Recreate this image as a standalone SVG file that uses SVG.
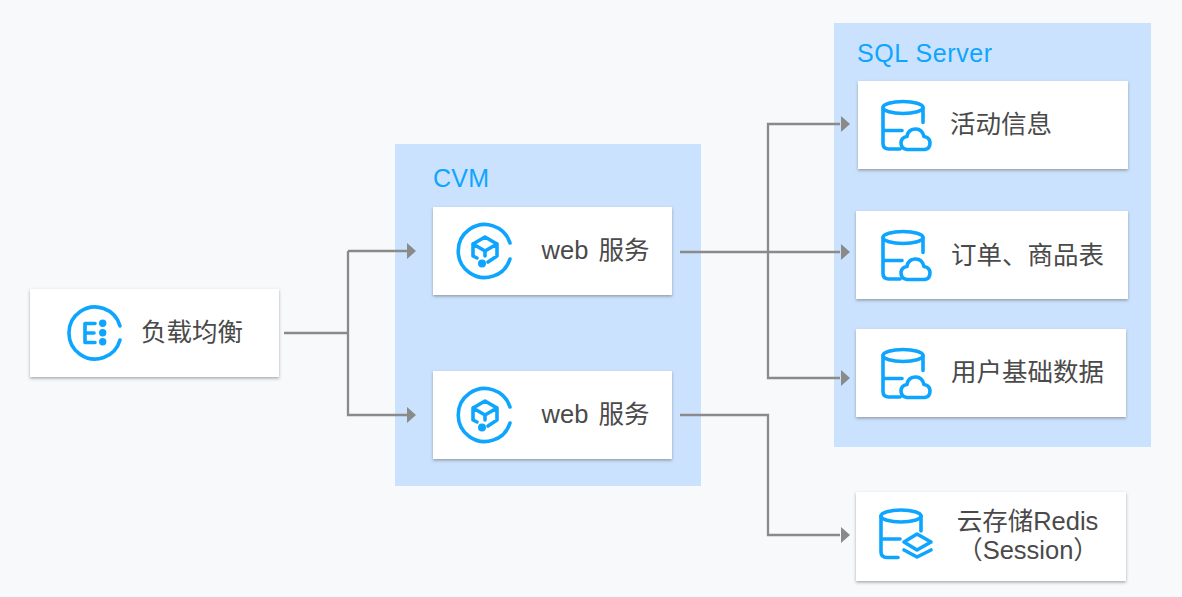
<svg xmlns="http://www.w3.org/2000/svg" xmlns:xlink="http://www.w3.org/1999/xlink" width="1182" height="597" viewBox="0 0 1182 597">
<style>
.card{fill:#fff;filter:url(#sh)}
.lbl{font-family:"Noto Sans CJK SC","Liberation Sans",sans-serif;font-size:25.5px;fill:#4a4a4a;text-anchor:middle}
.web{font-family:"Liberation Sans","Noto Sans CJK SC",sans-serif;font-size:25.5px;fill:#4a4a4a;text-anchor:middle;word-spacing:3px}
.ttl{font-family:"Liberation Sans",sans-serif;font-size:25px;fill:#0ea5ff}
.ic{fill:none;stroke:#0ea5ff;stroke-width:3.6;stroke-linecap:round;stroke-linejoin:round}
.dot{fill:#0ea5ff}
.ln{fill:none;stroke:#8a8a8a;stroke-width:2.300}
.ah{fill:#8a8a8a}
.zone{fill:#cbe2fe}
</style>
<defs>
<filter id="sh" x="-5%" y="-10%" width="110%" height="125%"><feDropShadow dx="0" dy="1.5" stdDeviation="1.5" flood-color="#555" flood-opacity=".5"/></filter>
<polygon id="ar" class="ah" points="0,-8 9,0 0,8"/>
<g id="db">
<ellipse cx="0" cy="0" rx="20" ry="6" class="ic"/>
<path class="ic" d="M-20 0V36Q-20 41.500 -14 41.500H-3M20 0V15M-20 23H-1"/>
</g>
<path id="cloud" class="ic" d="M8 42H26Q31 41 31 35.500Q31 30 25 29Q23 21 16 21.500Q9 22 8 29Q2 30 2 35.500Q2 41 8 42Z"/>
<g id="web">
<path class="ic" d="M25 -8A26.500 26.500 0 1 0 25 8"/>
<path class="ic" d="M-8 7L-12 5V-7L0-14L12-7V5L3 11M-12-7L0 0L12-7M0 0V5"/>
<circle class="dot" cx="-3" cy="12.500" r="4"/>
</g>
</defs>
<rect width="1182" height="597" fill="#f8f9fb"/>
<rect class="zone" x="395" y="144" width="306" height="342"/>
<rect class="zone" x="834" y="23" width="317" height="424"/>
<text class="ttl" x="433" y="187" letter-spacing=".3">CVM</text>
<text class="ttl" x="857" y="62" letter-spacing=".6">SQL Server</text>
<g id="connectors">
<path class="ln" d="M284 333H348M348 251H407M348 251V415H407"/>
<path class="ln" d="M680 252H840M768 252V124H840M768 252V378H840"/>
<path class="ln" d="M680 415H768V535H840"/>
<use xlink:href="#ar" href="#ar" x="407" y="251"/>
<use xlink:href="#ar" href="#ar" x="407" y="415"/>
<use xlink:href="#ar" href="#ar" x="841" y="124"/>
<use xlink:href="#ar" href="#ar" x="841" y="252"/>
<use xlink:href="#ar" href="#ar" x="841" y="378"/>
<use xlink:href="#ar" href="#ar" x="841" y="535"/>
</g>
<g id="lb">
<rect class="card" x="30" y="289" width="249" height="88"/>
<path class="ic" d="M120 326A26 26 0 1 0 120 340"/>
<path class="ic" stroke-linecap="butt" d="M95 323.500H85V342.500H95M85 333H94"/>
<circle class="dot" cx="102.700" cy="323.300" r="3.700"/><circle class="dot" cx="102.700" cy="332.700" r="3.700"/><circle class="dot" cx="102.700" cy="341.700" r="3.700"/>
<text class="lbl" x="192" y="341">负载均衡</text>
</g>
<g id="web1">
<rect class="card" x="433" y="207" width="239" height="88"/>
<use xlink:href="#web" href="#web" x="485" y="251"/>
<text class="web" x="595.500" y="259">web 服务</text>
</g>
<g id="web2">
<rect class="card" x="433" y="371" width="239" height="88"/>
<use xlink:href="#web" href="#web" x="485" y="415"/>
<text class="web" x="595.500" y="423">web 服务</text>
</g>
<g id="db1">
<rect class="card" x="858" y="81" width="270" height="88"/>
<use xlink:href="#db" href="#db" x="903" y="107.500"/>
<use xlink:href="#cloud" href="#cloud" x="899" y="107.500"/>
<text class="lbl" x="1001" y="133">活动信息</text>
</g>
<g id="db2">
<rect class="card" x="856" y="211" width="272" height="88"/>
<use xlink:href="#db" href="#db" x="903" y="237.500"/>
<use xlink:href="#cloud" href="#cloud" x="899" y="237.500"/>
<text class="lbl" x="1027.500" y="264">订单、商品表</text>
</g>
<g id="db3">
<rect class="card" x="856" y="329" width="270" height="88"/>
<use xlink:href="#db" href="#db" x="903" y="355.500"/>
<use xlink:href="#cloud" href="#cloud" x="899" y="355.500"/>
<text class="lbl" x="1027.500" y="381">用户基础数据</text>
</g>
<g id="redis">
<rect class="card" x="856" y="492" width="270" height="89"/>
<use xlink:href="#db" href="#db" x="901" y="516"/>
<path class="ic" d="M917 534L931 542L917 550L904 542ZM904 550L917 557L931 550"/>
<text class="web" x="1027.500" y="530">云存储Redis</text>
<text class="web" x="1028" y="559">（Session）</text>
</g>
</svg>
